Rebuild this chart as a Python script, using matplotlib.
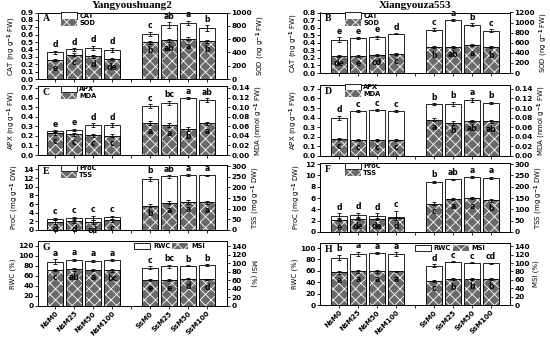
import matplotlib.pyplot as plt
from matplotlib.patches import Patch

plt.rcParams["font.family"] = "DejaVu Sans"
plt.rcParams["font.weight"] = "bold"
plt.rcParams["hatch.linewidth"] = 0.6

treatments = ["NsM0", "NsM25", "NsM50", "NsM100", "SsM0", "SsM25", "SsM50", "SsM100"]
xpos = [0, 1, 2, 3, 5, 6, 7, 8]

# A - Yangyoushuang2, CAT / SOD
a_cat = [0.365, 0.40, 0.42, 0.395, 0.61, 0.725, 0.76, 0.69]
a_cat_err = [0.02, 0.02, 0.03, 0.03, 0.03, 0.04, 0.03, 0.04]
a_cat_let = ["d", "d", "d", "d", "c", "ab", "a", "b"]
a_sod = [285, 365, 340, 300, 550, 580, 605, 565]
a_sod_err = [20, 20, 25, 20, 25, 20, 20, 25]
a_sod_let = ["e", "c", "d", "de", "b", "ab", "a", "b"]

# B - Xiangyouza553, CAT / SOD
b_cat = [0.44, 0.46, 0.475, 0.52, 0.57, 0.70, 0.64, 0.56]
b_cat_err = [0.03, 0.01, 0.02, 0.01, 0.02, 0.01, 0.02, 0.02]
b_cat_let = ["e", "e", "e", "d", "c", "a", "b", "c"]
b_sod = [340, 340, 360, 380, 510, 520, 550, 510]
b_sod_err = [15, 15, 15, 15, 20, 20, 20, 20]
b_sod_let = ["de", "e", "cd", "c", "b", "ab", "a", "b"]

# C - APX / MDA
c_apx = [0.25, 0.265, 0.31, 0.315, 0.51, 0.545, 0.595, 0.57]
c_apx_err = [0.01, 0.01, 0.02, 0.02, 0.02, 0.02, 0.01, 0.02]
c_apx_let = ["e", "e", "d", "d", "c", "bc", "a", "ab"]
c_mda = [0.045, 0.043, 0.041, 0.040, 0.066, 0.062, 0.055, 0.066]
c_mda_err = [0.003, 0.003, 0.003, 0.003, 0.004, 0.004, 0.004, 0.003]
c_mda_let = ["c", "c", "c", "c", "a", "a", "b", "a"]

# D - APX / MDA
d_apx = [0.40, 0.465, 0.475, 0.465, 0.54, 0.545, 0.58, 0.555]
d_apx_err = [0.02, 0.01, 0.01, 0.01, 0.01, 0.02, 0.02, 0.01]
d_apx_let = ["d", "c", "c", "c", "b", "b", "a", "b"]
d_mda = [0.036, 0.034, 0.034, 0.034, 0.076, 0.069, 0.073, 0.072]
d_mda_err = [0.002, 0.002, 0.002, 0.002, 0.003, 0.004, 0.003, 0.003]
d_mda_let = ["c", "c", "c", "c", "a", "b", "ab", "ab"]

# E - ProC / TSS
e_proc = [2.5, 2.8, 2.8, 2.9, 11.8, 12.4, 12.65, 12.6]
e_proc_err = [0.3, 0.3, 0.5, 0.4, 0.5, 0.3, 0.2, 0.2]
e_proc_let = ["c", "c", "c", "c", "b", "ab", "a", "a"]
e_tss = [38, 40, 37, 45, 114, 129, 132, 130]
e_tss_err = [8, 8, 10, 8, 6, 6, 8, 6]
e_tss_let = ["d", "d", "cd", "c", "b", "a", "a", "a"]

# F - ProC / TSS
f_proc = [2.8, 3.0, 2.8, 2.7, 8.9, 9.3, 9.7, 9.6]
f_proc_err = [0.5, 0.4, 0.5, 1.1, 0.2, 0.1, 0.2, 0.2]
f_proc_let = ["d", "d", "d", "c", "b", "ab", "a", "a"]
f_tss = [55, 58, 58, 60, 125, 146, 150, 140]
f_tss_err = [6, 6, 6, 6, 6, 6, 6, 6]
f_tss_let = ["e", "de", "de", "d", "c", "a", "a", "b"]

# G - RWC / MSI
g_rwc = [89, 93, 91, 92, 77, 80, 81, 81.5]
g_rwc_err = [5, 2, 2, 2, 3, 3, 1, 2]
g_rwc_let = ["a", "a", "a", "a", "c", "bc", "b", "b"]
g_msi = [84, 85.5, 84, 83, 60, 60, 64, 62]
g_msi_err = [3, 3, 3, 3, 2, 2, 2, 2]
g_msi_let = ["c", "ab", "a", "bc", "e", "e", "d", "d"]

# H - RWC / MSI
h_rwc = [83.5, 90, 91.5, 90, 69, 76, 74.5, 73.5]
h_rwc_err = [5, 4, 1, 3, 3, 1, 1, 1]
h_rwc_let = ["b", "a", "a", "a", "d", "c", "c", "cd"]
h_msi = [78, 80, 80, 80, 58, 61.5, 62, 62]
h_msi_err = [3, 3, 3, 2, 2, 2, 2, 2]
h_msi_let = ["a", "a", "a", "a", "c", "b", "b", "b"]

W, H = 550, 338
HATCH_FACE = "#6a6a6a"


def rect(x0, x1, top, bottom):
    return [x0 / W, 1 - bottom / H, (x1 - x0) / W, (bottom - top) / H]


def draw_panel(fig, box, xlim, back, back_err, back_let, front, front_err, front_let,
               ylim1, ticks1, fmt1, ylim2, ticks2, fmt2, names, ylab1, ylab2,
               letter, legend_pos, legend_row=False, xlabels=False, rot2=90):
    ax = fig.add_axes(box)
    ax2 = ax.twinx()

    # white bars on the left axis
    ax.bar(xpos, back, width=0.8, color="white", edgecolor="black", linewidth=0.6, zorder=2)
    ax.errorbar(xpos, back, yerr=back_err, fmt="none", ecolor="black",
                elinewidth=0.6, capsize=1.2, capthick=0.6, zorder=3)

    # patterned bars on the right axis
    ax2.bar(xpos, front, width=0.8, color=HATCH_FACE, edgecolor="white", hatch="xxx",
            linewidth=0, zorder=2)
    ax2.bar(xpos, front, width=0.8, fill=False, edgecolor="black", linewidth=0.6, zorder=3)
    ax2.errorbar(xpos, front, yerr=front_err, fmt="none", ecolor="black",
                 elinewidth=0.6, capsize=1.2, capthick=0.6, zorder=4)

    for x, v, e, t in zip(xpos, back, back_err, back_let):
        ax.annotate(t, (x, v + e), xytext=(0, 1), textcoords="offset points",
                    ha="center", va="bottom", fontsize=5.5, zorder=5)
    for x, v, t in zip(xpos, front, front_let):
        ax2.annotate(t, (x, v), xytext=(0, -2.5), textcoords="offset points",
                     ha="center", va="top", fontsize=5.5, zorder=5)

    ax.set_xlim(*xlim)
    ax.set_ylim(*ylim1)
    ax2.set_ylim(*ylim2)
    ax.set_yticks(ticks1)
    ax.set_yticklabels([fmt1.format(t) for t in ticks1])
    ax2.set_yticks(ticks2)
    ax2.set_yticklabels([fmt2.format(t) for t in ticks2])
    ax.set_xticks(range(9))
    if xlabels:
        ax.set_xticklabels(treatments[:4] + [""] + treatments[4:], rotation=45,
                           ha="right", rotation_mode="anchor", fontsize=5)
    else:
        ax.set_xticklabels([])
    for a in (ax, ax2):
        a.tick_params(axis="y", labelsize=5.3, length=2, width=0.6, pad=1)
        for s in a.spines.values():
            s.set_linewidth(0.6)
    ax.tick_params(axis="x", length=2, width=0.6, pad=1)
    ax.set_ylabel(ylab1, fontsize=5, labelpad=2)
    ax2.set_ylabel(ylab2, fontsize=5, labelpad=2 if rot2 == 90 else 7, rotation=rot2)

    ax.text(0.025, 0.97, letter, transform=ax.transAxes, ha="left", va="top",
            fontsize=7, family="Liberation Serif", fontweight="bold", zorder=6)

    handles = [Patch(facecolor="white", edgecolor="black", linewidth=0.6, label=names[0]),
               Patch(facecolor=HATCH_FACE, edgecolor="white", hatch="xxx", linewidth=0,
                     label=names[1])]
    ax2.legend(handles=handles, loc="upper left", bbox_to_anchor=legend_pos,
               ncol=2 if legend_row else 1, frameon=False, fontsize=4.8, borderpad=0,
               handlelength=2.4, handleheight=1.1, handletextpad=0.4,
               labelspacing=0.05, columnspacing=0.3, borderaxespad=0)
    return ax, ax2


fig = plt.figure(figsize=(5.5, 3.38), dpi=100)

L = (38, 227)
R = (320, 510)
lx = (-0.9, 9.05)
rx = (-1.0, 9.0)
ug = "(ng g$^{-1}$ FW)"

draw_panel(fig, rect(*L, 12.5, 79), lx, a_cat, a_cat_err, a_cat_let, a_sod, a_sod_err, a_sod_let,
           (0, 0.9), [i / 10 for i in range(10)], "{:.1f}", (0, 1000), range(0, 1001, 200), "{:d}",
           ["CAT", "SOD"], "CAT " + ug, "SOD " + ug, "A", (0.12, 1.0))
draw_panel(fig, rect(*R, 12.5, 73), rx, b_cat, b_cat_err, b_cat_let, b_sod, b_sod_err, b_sod_let,
           (0, 0.8), [i / 10 for i in range(9)], "{:.1f}", (0, 1200), range(0, 1201, 200), "{:d}",
           ["CAT", "SOD"], "CAT " + ug, "SOD " + ug, "B", (0.13, 1.0))
draw_panel(fig, rect(*L, 86, 155), lx, c_apx, c_apx_err, c_apx_let, c_mda, c_mda_err, c_mda_let,
           (0, 0.72), [i / 10 for i in range(8)], "{:.1f}", (0, 0.144), [i / 50 for i in range(8)], "{:.2f}",
           ["APX", "MDA"], "APX " + ug, "MDA (nmol g$^{-1}$ FW)", "C", (0.12, 1.0))
draw_panel(fig, rect(*R, 85, 156), rx, d_apx, d_apx_err, d_apx_let, d_mda, d_mda_err, d_mda_let,
           (0, 0.74), [i / 10 for i in range(8)], "{:.1f}", (0, 0.148), [i / 50 for i in range(8)], "{:.2f}",
           ["APX", "MDA"], "APX " + ug, "MDA (nmol g$^{-1}$ FW)", "D", (0.13, 1.02))
draw_panel(fig, rect(*L, 165, 230), lx, e_proc, e_proc_err, e_proc_let, e_tss, e_tss_err, e_tss_let,
           (0, 15), range(0, 15, 2), "{:d}", (0, 305), range(0, 301, 50), "{:d}",
           ["ProC", "TSS"], "ProC (mg g$^{-1}$ DW)", "TSS (mg g$^{-1}$ DW)", "E", (0.12, 1.0))
draw_panel(fig, rect(*R, 163, 232), rx, f_proc, f_proc_err, f_proc_let, f_tss, f_tss_err, f_tss_let,
           (0, 12.2), range(0, 13, 2), "{:d}", (0, 305), range(0, 301, 50), "{:d}",
           ["ProC", "TSS"], "ProC (mg g$^{-1}$ DW)", "TSS (mg g$^{-1}$ DW)", "F", (0.13, 1.0))
draw_panel(fig, rect(*L, 241, 306), lx, g_rwc, g_rwc_err, g_rwc_let, g_msi, g_msi_err, g_msi_let,
           (0, 130), range(0, 121, 20), "{:d}", (0, 151.7), range(0, 141, 20), "{:d}",
           ["RWC", "MSI"], "RWC (%)", "MSI (%)", "G", (0.51, 0.97), legend_row=True,
           xlabels=True, rot2=270)
draw_panel(fig, rect(*R, 243, 305), rx, h_rwc, h_rwc_err, h_rwc_let, h_msi, h_msi_err, h_msi_let,
           (0, 109), range(0, 101, 20), "{:d}", (0, 148), range(0, 141, 20), "{:d}",
           ["RWC", "MSI"], "RWC (%)", "MSI (%)", "H", (0.5, 0.97), legend_row=True,
           xlabels=True)

fig.text((L[0] + L[1]) / 2 / W, 1 - 6 / H, "Yangyoushuang2", ha="center", va="center",
         fontsize=8, family="Liberation Serif", fontweight="bold")
fig.text((R[0] + R[1]) / 2 / W, 1 - 6 / H, "Xiangyouza553", ha="center", va="center",
         fontsize=8, family="Liberation Serif", fontweight="bold")

fig.savefig("out.png", dpi=100, facecolor="white")
